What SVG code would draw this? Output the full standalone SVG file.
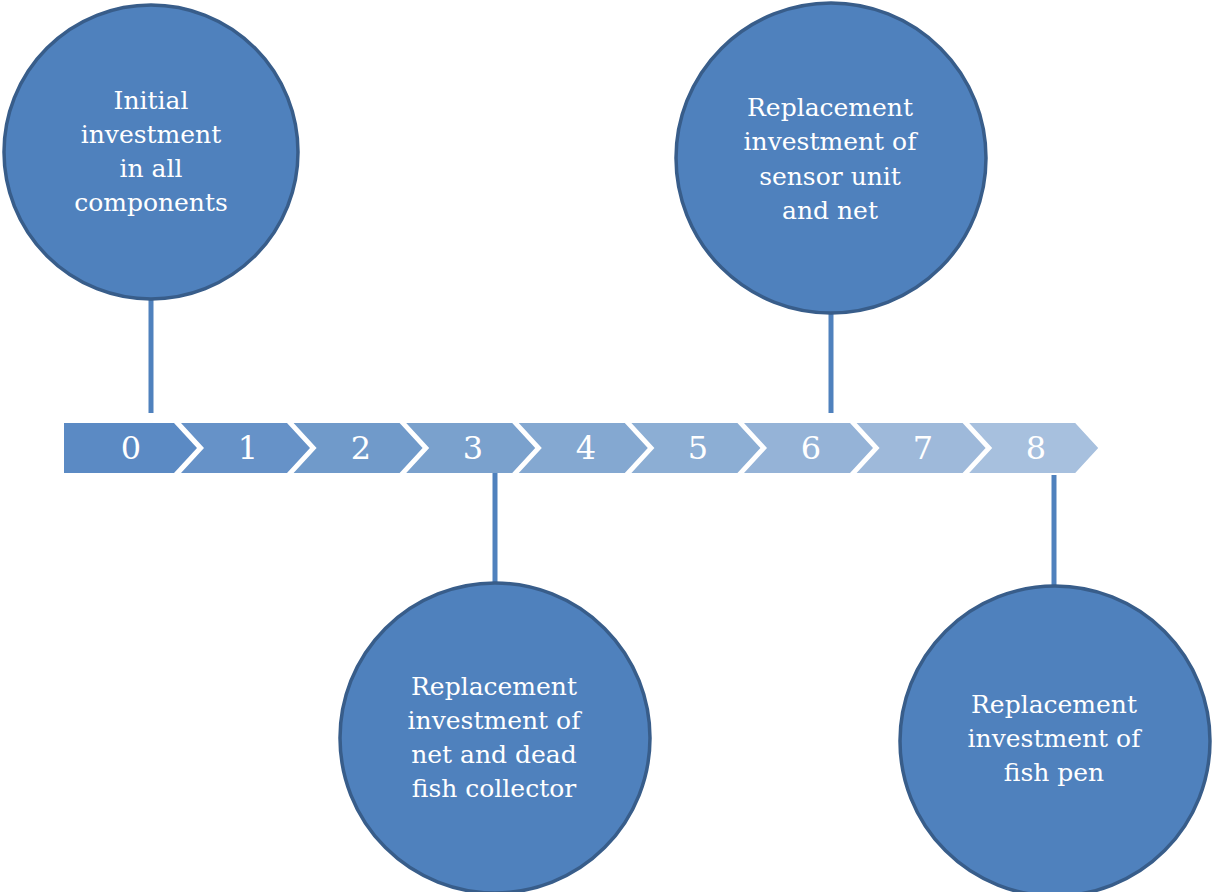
<svg xmlns="http://www.w3.org/2000/svg" width="1213" height="892" viewBox="0 0 1213 892">
<style>
.node circle{fill:#4f81bd;stroke:#385d8a;stroke-width:3.5}
.node text{fill:#ffffff;font-family:"DejaVu Serif","Liberation Serif",serif;font-size:25px;text-anchor:middle}
.num{fill:#ffffff;font-family:"DejaVu Serif","Liberation Serif",serif;font-size:32px;text-anchor:middle;dominant-baseline:central}
.conn line{stroke:#4f81bd;stroke-width:5}
</style>
<rect width="1213" height="892" fill="#ffffff"/>
<g id="timeline">
<path d="M64,423 H174 L197,448 L174,473 H64 Z" fill="#5b8ac4"/>
<path d="M181,423 H287 L310,448 L287,473 H181 L204,448 Z" fill="#6692c8"/>
<path d="M293.6,423 H399.6 L422.6,448 L399.6,473 H293.6 L316.6,448 Z" fill="#709aca"/>
<path d="M406.2,423 H512.2 L535.2,448 L512.2,473 H406.2 L429.2,448 Z" fill="#7aa1cd"/>
<path d="M518.8,423 H624.8 L647.8,448 L624.8,473 H518.8 L541.8,448 Z" fill="#84a8d1"/>
<path d="M631.4,423 H737.4 L760.4,448 L737.4,473 H631.4 L654.4,448 Z" fill="#8caed4"/>
<path d="M744,423 H850 L873,448 L850,473 H744 L767,448 Z" fill="#95b3d7"/>
<path d="M856.6,423 H962.6 L985.6,448 L962.6,473 H856.6 L879.6,448 Z" fill="#9eb9da"/>
<path d="M969.2,423 H1075.2 L1098.2,448 L1075.2,473 H969.2 L992.2,448 Z" fill="#a7c0de"/>
<text class="num" x="131" y="448">0</text>
<text class="num" x="248" y="448">1</text>
<text class="num" x="361" y="448">2</text>
<text class="num" x="473" y="448">3</text>
<text class="num" x="586" y="448">4</text>
<text class="num" x="698" y="448">5</text>
<text class="num" x="811" y="448">6</text>
<text class="num" x="923" y="448">7</text>
<text class="num" x="1036" y="448">8</text>
</g>
<g id="connectors" class="conn">
<line x1="151" y1="300" x2="151" y2="413"/>
<line x1="495" y1="473" x2="495" y2="584"/>
<line x1="831" y1="312" x2="831" y2="413"/>
<line x1="1054" y1="475" x2="1054" y2="586"/>
</g>
<g id="node-initial" class="node">
<circle cx="151" cy="152" r="147"/>
<text x="151" y="109">Initial</text>
<text x="151" y="143">investment</text>
<text x="151" y="177">in all</text>
<text x="151" y="211">components</text>
</g>
<g id="node-year3" class="node">
<circle cx="495" cy="738" r="155"/>
<text x="494" y="695">Replacement</text>
<text x="494" y="729">investment of</text>
<text x="494" y="763">net and dead</text>
<text x="494" y="797">fish collector</text>
</g>
<g id="node-year6" class="node">
<circle cx="831" cy="158" r="155"/>
<text x="830" y="116">Replacement</text>
<text x="830" y="150">investment of</text>
<text x="830" y="185">sensor unit</text>
<text x="830" y="219">and net</text>
</g>
<g id="node-year8" class="node">
<circle cx="1055" cy="741" r="155"/>
<text x="1054" y="713">Replacement</text>
<text x="1054" y="747">investment of</text>
<text x="1054" y="781">fish pen</text>
</g>
</svg>
